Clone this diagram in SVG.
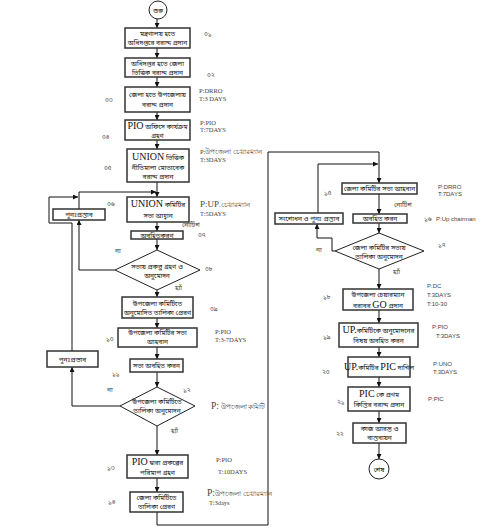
<svg xmlns="http://www.w3.org/2000/svg" width="498" height="528" viewBox="0 0 498 528">
<defs>
<marker id="ah" viewBox="0 0 8 8" refX="8" refY="4" markerWidth="5" markerHeight="5" orient="auto" markerUnits="userSpaceOnUse">
<path d="M0,0 L8,4 L0,8 Z" fill="#111"/>
</marker>
<style>
.box{fill:#fff;stroke:#333;stroke-width:1.5}
.dia{fill:#fff;stroke:#222;stroke-width:1}
.circ{fill:#fff;stroke:#222;stroke-width:1}
.ln{fill:none;stroke:#111;stroke-width:1}
.ar{fill:none;stroke:#111;stroke-width:1;marker-end:url(#ah)}
.bn{font-family:"Noto Sans Bengali","Lohit Bengali","Noto Serif Bengali","Liberation Serif",serif;font-size:6.6px;fill:#111;text-anchor:middle}
.bs{font-family:"Noto Sans Bengali","Lohit Bengali","Noto Serif Bengali","Liberation Serif",serif;font-size:6.5px;fill:#444}
.en{font-family:"Liberation Serif",serif;font-size:10px}
.lab{font-family:"Liberation Serif",serif;font-size:6.5px;fill:#444}
.labs{font-family:"Liberation Sans",sans-serif;font-size:6px;fill:#444}
</style>
</defs>
<rect width="498" height="528" fill="#fff"/>

<g id="connectors">
<line class="ar" x1="157" y1="19" x2="157" y2="28"/>
<line class="ar" x1="157" y1="48" x2="157" y2="58"/>
<line class="ar" x1="157" y1="77" x2="157" y2="87"/>
<line class="ar" x1="157" y1="112" x2="157" y2="120"/>
<line class="ar" x1="157" y1="140" x2="157" y2="149"/>
<line class="ar" x1="157" y1="182" x2="157" y2="197"/>
<line class="ar" x1="157" y1="222" x2="157" y2="231"/>
<line class="ar" x1="157" y1="239" x2="157" y2="250"/>
<line class="ar" x1="157" y1="290" x2="157" y2="297"/>
<line class="ar" x1="157" y1="318" x2="157" y2="328"/>
<line class="ar" x1="157" y1="347" x2="157" y2="359"/>
<line class="ar" x1="157" y1="372" x2="157" y2="387"/>
<line class="ar" x1="157" y1="426" x2="157" y2="455"/>
<line class="ar" x1="157" y1="478" x2="157" y2="492"/>
<polyline class="ar" points="157,512 157,525 268,525 268,152 379,152 379,183"/>
<polyline class="ar" points="318,213 318,164 378,164"/>
<polyline class="ar" points="115,270 79,270 79,220"/>
<polyline class="ar" points="79,209 79,192 156,192"/>
<polyline class="ar" points="120,406 72,406 72,367"/>
<polyline class="ar" points="72,351 72,223 49,223 49,197 78,197"/>
<line class="ar" x1="379" y1="194" x2="379" y2="214"/>
<line class="ar" x1="379" y1="223" x2="379" y2="233"/>
<polyline class="ar" points="335,251 332,251 332,238 317,238 317,224"/>
<line class="ar" x1="379" y1="269" x2="379" y2="289"/>
<line class="ar" x1="379" y1="310" x2="379" y2="323"/>
<line class="ar" x1="379" y1="347" x2="379" y2="357"/>
<line class="ar" x1="379" y1="377" x2="379" y2="387"/>
<line class="ar" x1="379" y1="411" x2="379" y2="423"/>
<line class="ar" x1="379" y1="443" x2="379" y2="459"/>
</g>

<g id="start">
<circle class="circ" cx="158" cy="10" r="9"/>
<text class="bn" x="158" y="12.5">শুরু</text>
</g>

<g id="n01">
<rect class="box" x="125" y="28" width="65" height="20"/>
<text class="bn" x="157.5" y="36">মন্ত্রণালয় হতে</text>
<text class="bn" x="157.5" y="45">অধিদপ্তরে বরাদ্দ প্রদান</text>
<text class="bs" x="204" y="36">০১</text>
</g>

<g id="n02">
<rect class="box" x="125" y="58" width="65" height="19"/>
<text class="bn" x="157.5" y="66">অধিদপ্তর হতে জেলা</text>
<text class="bn" x="157.5" y="74.5">ভিত্তিক বরাদ্দ প্রদান</text>
<text class="bs" x="207" y="77">০২</text>
</g>

<g id="n03">
<rect class="box" x="125" y="87" width="65" height="25"/>
<text class="bn" x="157.5" y="97">জেলা হতে উপজেলায়</text>
<text class="bn" x="157.5" y="107">বরাদ্দ প্রদান</text>
<text class="bs" x="105" y="102">০৩</text>
<text class="lab" x="199" y="93">P:DRRO</text>
<text class="lab" x="199" y="101">T:3 DAYS</text>
</g>

<g id="n04">
<rect class="box" x="125" y="120" width="65" height="20"/>
<text class="bn" x="157.5" y="129"><tspan class="en">PIO</tspan> অফিসে কার্যক্রম</text>
<text class="bn" x="157.5" y="137.5">গ্রহণ</text>
<text class="bs" x="102" y="139">০৪</text>
<text class="lab" x="200" y="125">P:PIO</text>
<text class="lab" x="200" y="132">T:7DAYS</text>
</g>

<g id="n05">
<rect class="box" x="127" y="149" width="62" height="33"/>
<text class="bn" x="158" y="160"><tspan class="en">UNION</tspan> ভিত্তিক</text>
<text class="bn" x="158" y="170">নীতিমালা মোতাবেক</text>
<text class="bn" x="158" y="179">বরাদ্দ প্রদান</text>
<text class="bs" x="104" y="170">০৫</text>
<text class="lab" x="200" y="154">P:উপজেলা চেয়ারম্যান</text>
<text class="lab" x="200" y="162">T:3DAYS</text>
</g>

<g id="n06">
<rect class="box" x="127" y="197" width="62" height="25"/>
<text class="bn" x="158" y="207"><tspan class="en">UNION</tspan> কমিটির</text>
<text class="bn" x="158" y="218">সভা আহ্বান</text>
<text class="bs" x="107" y="206">০৬</text>
<text class="lab" x="200" y="207"><tspan font-size="9">P:UP</tspan>.চেয়ারম্যান</text>
<text class="lab" x="200" y="216">T:5DAYS</text>
<text class="bs" x="182" y="227" font-size="4.5">নোটিশ</text>
</g>

<g id="n07">
<rect class="box" x="131" y="231" width="52" height="8"/>
<text class="bn" x="157" y="237.5" font-size="6">অবহিতকরণ</text>
<text class="bs" x="198" y="237">০৭</text>
</g>

<g id="n08">
<polygon class="dia" points="157,250 200,270 157,290 115,270"/>
<text class="bn" x="157" y="269" font-size="6">সভায় প্রকল্প গ্রহণ ও</text>
<text class="bn" x="157" y="278" font-size="6">অনুমোদন</text>
<text class="bs" x="205" y="271">০৮</text>
<text class="bs" x="115" y="253">না</text>
<text class="bs" x="175" y="290">হ্যাঁ</text>
</g>

<g id="re1">
<rect class="box" x="53" y="209" width="52" height="11"/>
<text class="bn" x="79" y="217" font-size="6">পুনঃপ্রস্তাব</text>
</g>

<g id="n09">
<rect class="box" x="122" y="297" width="71" height="21"/>
<text class="bn" x="157.5" y="306">উপজেলা কমিটিতে</text>
<text class="bn" x="157.5" y="315">অনুমোদিত তালিকা প্রেরণ</text>
<text class="bs" x="210" y="311">০৯</text>
</g>

<g id="n10">
<rect class="box" x="118" y="328" width="79" height="19"/>
<text class="bn" x="157.5" y="335">উপজেলা কমিটির সভা</text>
<text class="bn" x="157.5" y="344">আহবান</text>
<text class="bs" x="106" y="341">১০</text>
<text class="lab" x="215" y="334">P:PIO</text>
<text class="lab" x="215" y="342">T:3-7DAYS</text>
</g>

<g id="n11">
<rect class="box" x="130" y="359" width="53" height="13"/>
<text class="bn" x="156.5" y="368">সভা অবহিত করন</text>
<text class="bs" x="112" y="376">১১</text>
</g>

<g id="n12">
<polygon class="dia" points="157,387 195,406 157,426 120,406"/>
<text class="bn" x="157" y="404" font-size="6">উপজেলা কমিটিতে</text>
<text class="bn" x="157" y="413" font-size="6">তালিকা অনুমোদন</text>
<text class="bs" x="183" y="392">১২</text>
<text class="bs" x="107" y="392">না</text>
<text class="bs" x="171" y="433">হ্যাঁ</text>
<text class="lab" x="211" y="409"><tspan font-size="9.5">P:</tspan> উপজেলা কমিটি</text>
</g>

<g id="re2">
<rect class="box" x="47" y="351" width="51" height="16"/>
<text class="bn" x="72.5" y="361.5" font-size="6">পুনঃপ্রস্তাব</text>
</g>

<g id="n13">
<rect class="box" x="127" y="455" width="61" height="23"/>
<text class="bn" x="157.5" y="464.5"><tspan class="en">PIO</tspan> দ্বারা প্রকল্পের</text>
<text class="bn" x="157.5" y="474.5">পরিমাপ গ্রহণ</text>
<text class="bs" x="107" y="470">১৩</text>
<text class="lab" x="216" y="462">P:PIO</text>
<text class="lab" x="218" y="474">T:10DAYS</text>
</g>

<g id="n14">
<rect class="box" x="130" y="492" width="53" height="20"/>
<text class="bn" x="156.5" y="500">জেলা কমিটিতে</text>
<text class="bn" x="156.5" y="509">তালিকা প্রেরণ</text>
<text class="bs" x="108" y="504">১৪</text>
<text class="lab" x="207" y="496"><tspan font-size="9.5">P:</tspan>উপজেলা চেয়ারম্যান</text>
<text class="lab" x="209" y="505" font-size="5.5">T:3days</text>
</g>

<g id="n15">
<rect class="box" x="342" y="183" width="75" height="11"/>
<text class="bn" x="379.5" y="191">জেলা কমিটির সভা আহবান</text>
<text class="bs" x="324" y="195">১৫</text>
<text class="labs" x="438" y="189">P:DRRO</text>
<text class="labs" x="438" y="196">T:7DAYS</text>
<text class="bs" x="394" y="207" font-size="4.5">নোটিশ</text>
</g>

<g id="n16">
<rect class="box" x="353" y="214" width="54" height="9"/>
<text class="bn" x="380" y="221">অবহিত করন</text>
<text class="bs" x="424" y="221">১৬</text>
<text class="labs" x="436" y="221">P:Up chairman</text>
</g>

<g id="re3">
<rect class="box" x="275" y="213" width="68" height="11"/>
<text class="bn" x="309" y="221" font-size="6.2">সংশোধন ও পুনঃ প্রস্তাব</text>
</g>

<g id="n17">
<polygon class="dia" points="379,233 424,251 379,269 335,251"/>
<text class="bn" x="379" y="250" font-size="6">জেলা কমিটির সভায়</text>
<text class="bn" x="379" y="259" font-size="6">তালিকা অনুমোদন</text>
<text class="bs" x="438" y="247">১৭</text>
<text class="bs" x="316" y="252">না</text>
<text class="bs" x="393" y="274">হ্যাঁ</text>
</g>

<g id="n18">
<rect class="box" x="343" y="289" width="70" height="21"/>
<text class="bn" x="378" y="296.5">উপজেলা চেয়ারম্যান</text>
<text class="bn" x="378" y="307.5">বরাবর <tspan class="en" font-size="9">GO</tspan> প্রদান</text>
<text class="bs" x="323" y="299">১৮</text>
<text class="labs" x="427" y="288">P:DC</text>
<text class="labs" x="427" y="297">T:3DAYS</text>
<text class="labs" x="427" y="306">T:10-30</text>
</g>

<g id="n19">
<rect class="box" x="339" y="323" width="79" height="24"/>
<text class="bn" x="378.5" y="333"><tspan class="en" font-size="9">UP.</tspan>কমিটিকে অনুমোদনের</text>
<text class="bn" x="378.5" y="343">বিষয় অবহিত করন</text>
<text class="bs" x="323" y="339">১৯</text>
<text class="labs" x="432" y="329">P:PIO</text>
<text class="labs" x="436" y="338">T:3DAYS</text>
</g>

<g id="n20">
<rect class="box" x="348" y="357" width="62" height="20"/>
<text class="bn" x="379" y="370"><tspan class="en" font-size="9">UP.</tspan>কমিটির <tspan class="en" font-size="9">PIC</tspan> দাখিল</text>
<text class="bs" x="322" y="374">২০</text>
<text class="labs" x="433" y="366">P:UNO</text>
<text class="labs" x="433" y="374">T:3DAYS</text>
</g>

<g id="n21">
<rect class="box" x="348" y="387" width="62" height="24"/>
<text class="bn" x="379" y="397"><tspan class="en">PIC</tspan> কে প্রথম</text>
<text class="bn" x="379" y="407">কিস্তির বরাদ্দ প্রদান</text>
<text class="bs" x="337" y="404">২১</text>
<text class="labs" x="428" y="401">P:PIC</text>
</g>

<g id="n22">
<rect class="box" x="353" y="423" width="53" height="20"/>
<text class="bn" x="379.5" y="431">কাজ আরম্ভ ও</text>
<text class="bn" x="379.5" y="440">বাস্তবায়ন</text>
<text class="bs" x="336" y="436">২২</text>
</g>

<g id="end">
<circle class="circ" cx="379" cy="469" r="10"/>
<text class="bn" x="379" y="471.5">শেষ</text>
</g>
</svg>
